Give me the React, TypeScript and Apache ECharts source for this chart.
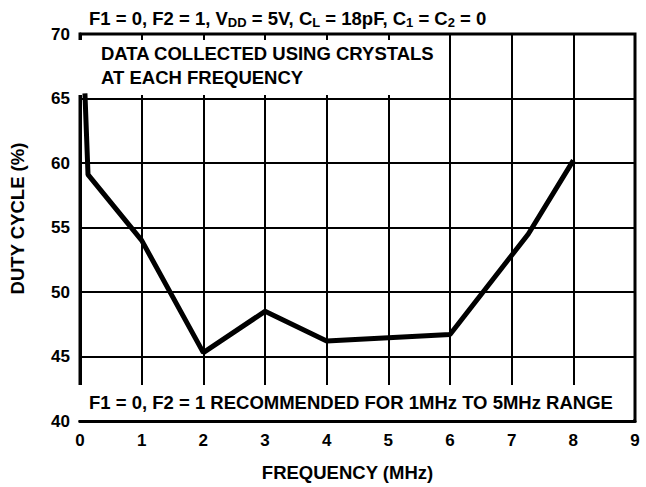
import React, { useEffect, useRef } from "react";
import * as echarts from "echarts";

const frequency = [0.08, 0.13, 1, 2, 3, 4, 6, 7.27, 8];
const dutyCycle = [65.4, 59.1, 54.0, 45.3, 48.5, 46.2, 46.7, 54.5, 60.2];
const xTicks = [0, 1, 2, 3, 4, 5, 6, 7, 8, 9];
const yTicks = [40, 45, 50, 55, 60, 65, 70];
const noteTop = ["DATA COLLECTED USING CRYSTALS", "AT EACH FREQUENCY"];
const noteBottom = "F1 = 0, F2 = 1 RECOMMENDED FOR 1MHz TO 5MHz RANGE";
const titleText = "F1 = 0, F2 = 1, V{s|DD} = 5V, C{s|L} = 18pF, C{s|1} = C{s|2} = 0";

const FONT = "'Liberation Sans', Arial, sans-serif";

export default function App() {
  const ref = useRef<HTMLDivElement>(null);
  useEffect(() => {
    document.body.style.margin = "0";
    const chart = echarts.init(ref.current!, null, { renderer: "svg" });
    chart.setOption({
      animation: false,
      backgroundColor: "#fff",
      textStyle: { fontFamily: FONT },
      title: {
        text: titleText,
        left: 84,
        top: 2,
        textStyle: {
          fontFamily: FONT,
          fontWeight: "bold",
          fontSize: 18.5,
          color: "#000",
          rich: {
            s: { fontSize: 13, fontWeight: "bold", fontFamily: FONT, color: "#000", padding: [9, 0, 0, 0] },
          },
        },
      },
      grid: {
        left: 75,
        top: 34,
        width: 560,
        height: 395,
        show: true,
        borderColor: "#000",
        borderWidth: 3,
        backgroundColor: "#fff",
      },
      xAxis: {
        type: "value",
        min: xTicks[0],
        max: xTicks[xTicks.length - 1],
        interval: 1,
        name: "FREQUENCY (MHz)",
        nameLocation: "middle",
        nameGap: 42,
        nameTextStyle: { fontFamily: FONT, fontWeight: "bold", fontSize: 18.5, color: "#000", padding: [0, 20, 0, 0] },
        axisLine: { show: true, lineStyle: { color: "#000", width: 3 } },
        axisTick: { show: false },
        axisLabel: { fontFamily: FONT, fontWeight: "bold", fontSize: 17, color: "#000", margin: 11 },
        splitLine: { show: true, lineStyle: { color: "#000", width: 2 } },
      },
      yAxis: {
        type: "value",
        min: yTicks[0],
        max: yTicks[yTicks.length - 1],
        interval: 5,
        name: "DUTY CYCLE (%)",
        nameLocation: "middle",
        nameGap: 53,
        nameTextStyle: { fontFamily: FONT, fontWeight: "bold", fontSize: 18.5, color: "#000", padding: [0, 0, 0, 18] },
        axisLine: { show: true, lineStyle: { color: "#000", width: 3 } },
        axisTick: { show: false },
        axisLabel: { fontFamily: FONT, fontWeight: "bold", fontSize: 17, color: "#000", margin: 10 },
        splitLine: { show: true, lineStyle: { color: "#000", width: 2 } },
      },
      graphic: [
        { type: "rect", z: 1, shape: { x: 77, y: 40, width: 363, height: 55 }, style: { fill: "#fff" } },
        { type: "rect", z: 1, shape: { x: 77, y: 385, width: 556, height: 35 }, style: { fill: "#fff" } },
        {
          type: "text", z: 5, x: 101, y: 53,
          style: { text: noteTop[0], font: `bold 18.5px ${FONT}`, fill: "#000", verticalAlign: "middle" },
        },
        {
          type: "text", z: 5, x: 101, y: 77,
          style: { text: noteTop[1], font: `bold 18.5px ${FONT}`, fill: "#000", verticalAlign: "middle" },
        },
        {
          type: "text", z: 5, x: 89, y: 402,
          style: { text: noteBottom, font: `bold 18.5px ${FONT}`, fill: "#000", verticalAlign: "middle" },
        },
      ],
      series: [
        {
          type: "line",
          z: 3,
          data: frequency.map((f, i) => [f, dutyCycle[i]]),
          showSymbol: false,
          symbol: "none",
          lineStyle: { color: "#000", width: 5 },
        },
      ],
    });
    return () => chart.dispose();
  }, []);
  return <div ref={ref} style={{ width: 646, height: 487 }} />;
}
